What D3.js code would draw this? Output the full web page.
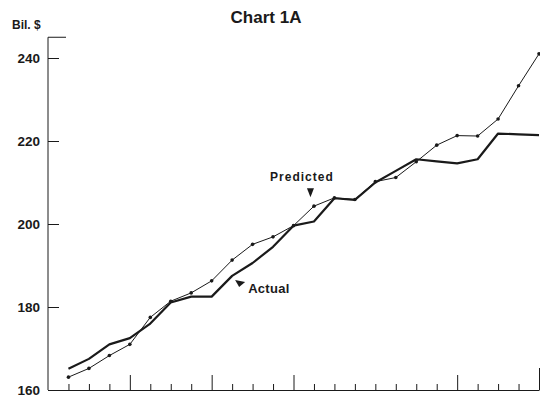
<!DOCTYPE html>
<html>
<head>
<meta charset="utf-8">
<script src="https://cdn.jsdelivr.net/npm/d3@7/dist/d3.min.js"></script>
<style>
  html, body { margin: 0; padding: 0; background: #fff; }
  svg { display: block; font-family: "Liberation Sans", Arial, Helvetica, sans-serif; }
</style>
</head>
<body>
<svg id="chart" width="540" height="395"></svg>
<script>
// ---- data ----
const quarters = d3.range(24); // quarterly periods, index 0..23
const actual = [165.1, 167.5, 171.0, 172.5, 176.0, 181.1, 182.5, 182.5, 187.5, 190.6, 194.5, 199.6,
                200.6, 206.2, 205.8, 210.0, 212.8, 215.6, 215.1, 214.6, 215.6, 221.8, 221.6, 221.4];
const predicted = [163.1, 165.2, 168.3, 171.0, 177.5, 181.4, 183.4, 186.3, 191.3, 195.1, 196.9, 199.6,
                   204.3, 206.3, 205.9, 210.2, 211.2, 215.0, 219.0, 221.3, 221.2, 225.3, 233.3, 241.0];
const yTicks = [160, 180, 200, 220, 240];
const majorTicks = [3, 7, 11, 19, 23];
const title = "Chart 1A";
const yUnit = "Bil. $";

// ---- layout ----
const svg = d3.select("#chart");
const x = d3.scaleLinear().domain([-1, 23]).range([48, 539]);
const y = d3.scaleLinear().domain([160, 240]).range([390, 58]);
const ink = "#1a1a1a";

// title
svg.append("text")
  .attr("x", 266).attr("y", 23)
  .attr("text-anchor", "middle")
  .attr("font-size", 17).attr("font-weight", "bold").attr("fill", ink)
  .text(title);

// unit label
svg.append("text")
  .attr("x", 12).attr("y", 29)
  .attr("font-size", 12).attr("font-weight", "bold").attr("fill", ink)
  .text(yUnit);

// y axis
const yAxis = svg.append("g")
  .attr("transform", `translate(${x(-1)},0)`)
  .call(d3.axisLeft(y).tickValues(yTicks).tickSize(-11).tickSizeOuter(0).tickPadding(8).tickFormat(d3.format("d")));
yAxis.select(".domain").remove();
yAxis.selectAll("line").attr("stroke", ink).attr("stroke-width", 1);
yAxis.selectAll("text").attr("font-size", 13.5).attr("font-weight", "bold").attr("fill", ink)
  .attr("font-family", "'Liberation Sans', Arial, sans-serif");
// vertical axis line up to cap
svg.append("line")
  .attr("x1", x(-1)).attr("x2", x(-1))
  .attr("y1", y(245)).attr("y2", y(160))
  .attr("stroke", ink).attr("stroke-width", 1);
svg.append("line")
  .attr("x1", x(-1)).attr("x2", x(-1) + 18)
  .attr("y1", y(245)).attr("y2", y(245))
  .attr("stroke", ink).attr("stroke-width", 1);

// x axis
const xAxis = svg.append("g")
  .attr("transform", `translate(0,${y(160)})`)
  .call(d3.axisBottom(x).tickValues(quarters).tickSize(-6).tickSizeOuter(0).tickFormat(""));
xAxis.select(".domain").attr("stroke", ink).attr("stroke-width", 1);
xAxis.selectAll(".tick line").attr("stroke", ink).attr("stroke-width", 1)
  .attr("y2", d => majorTicks.includes(d) ? (d === 23 ? -22 : -15) : -6);

// lines
const line = (vals) => d3.line().x((d, i) => x(quarters[i])).y(d => y(d))(vals);

svg.append("path")
  .attr("d", line(predicted))
  .attr("fill", "none").attr("stroke", ink).attr("stroke-width", 1);
svg.append("g").selectAll("circle")
  .data(predicted).join("circle")
  .attr("cx", (d, i) => x(quarters[i])).attr("cy", d => y(d))
  .attr("r", 1.8).attr("fill", ink);

svg.append("path")
  .attr("d", line(actual))
  .attr("fill", "none").attr("stroke", ink).attr("stroke-width", 2.2)
  .attr("stroke-linejoin", "round");

// annotations
const pi = 12; // predicted label near quarter 12
const px = x(pi) - 3, py = y(predicted[pi]);
svg.append("text")
  .attr("x", px - 9).attr("y", py - 25)
  .attr("text-anchor", "middle")
  .attr("font-size", 12).attr("font-weight", "bold").attr("letter-spacing", 1).attr("fill", ink)
  .text("Predicted");
svg.append("path")
  .attr("d", `M${px - 4},${py - 18} L${px + 3},${py - 18} L${px - 0.5},${py - 9} Z`)
  .attr("fill", ink);

const ai = 8; // actual label near quarter 8
const ax = x(ai) + 3, ay = y(actual[ai]) + 4;
svg.append("path")
  .attr("d", `M${ax},${ay} L${ax + 10},${ay + 2} L${ax + 4},${ay + 7} Z`)
  .attr("fill", ink);
svg.append("text")
  .attr("x", ax + 13).attr("y", ay + 13)
  .attr("font-size", 13).attr("font-weight", "bold").attr("letter-spacing", 0.3).attr("fill", ink)
  .text("Actual");
</script>
</body>
</html>
